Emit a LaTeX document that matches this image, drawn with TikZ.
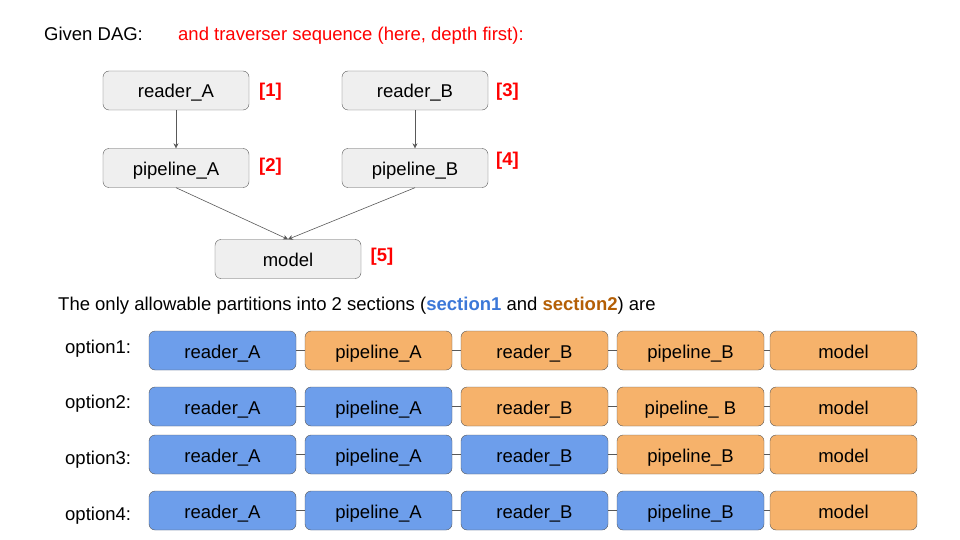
\documentclass[tikz,border=0pt]{standalone}
\usepackage{fontspec}
\setmainfont{Liberation Sans}
\usetikzlibrary{arrows.meta}
\definecolor{boxgray}{HTML}{EFEFEF}
\definecolor{edgegray}{HTML}{595959}
\definecolor{secone}{HTML}{6D9EEB}
\definecolor{sectwo}{HTML}{F6B26B}
\definecolor{secondtext}{HTML}{B45F06}
\definecolor{firsttext}{HTML}{3C78D8}
\tikzset{
	txt/.style={font=\fontsize{18.5}{22}\selectfont, inner sep=0pt},
	line/.style={txt, anchor=base west},
	dagbox/.style={txt, text height=15pt, text depth=0pt, draw=edgegray, fill=boxgray, rounded corners=6pt, minimum width=146pt, minimum height=39pt},
	partbox/.style={txt, text height=15pt, text depth=0pt, draw=edgegray, rounded corners=6pt, minimum width=147pt, minimum height=39pt},
	blue box/.style={partbox, fill=secone},
	orange box/.style={partbox, fill=sectwo},
	order/.style={txt, text=red, font=\fontsize{18.5}{22}\selectfont\bfseries},
	link/.style={draw=edgegray, line width=0.6pt}
}

\begin{document}
\begin{tikzpicture}[x=1pt,y=-1pt,>={Stealth[length=5pt,width=5pt]}]
		%\draw[help lines] (0,0) grid (960,540);
		\useasboundingbox (0,0) rectangle (960,540);
		
		\node[line] (given) at (44,41) {Given DAG:};
		\node[line, text=red] (traverse) at (178,41) {and traverser sequence (here, depth first):};
		
		\node[dagbox] (readA) at (176,90.5) {reader\_A};
		\node[dagbox] (pipeA) at (176,168) {pipeline\_A};
		\node[dagbox] (readB) at (415,90.5) {reader\_B};
		\node[dagbox] (pipeB) at (415,168) {pipeline\_B};
		\node[dagbox] (model) at (288,259) {model};
		
		\node[order] (n1) at (270.5,92) {[1]};
		\node[order] (n2) at (270.5,166.5) {[2]};
		\node[order] (n3) at (507.5,92) {[3]};
		\node[order] (n4) at (507.5,161) {[4]};
		\node[order] (n5) at (382,257) {[5]};
		
		\draw[link,->] (readA) -- (pipeA);
		\draw[link,->] (readB) -- (pipeB);
		\draw[link,->] (pipeA.south) -- (model.north);
		\draw[link,->] (pipeB.south) -- (model.north);
		
		\node[line] (partitions) at (58,310) {The only allowable partitions into 2 sections (\textcolor{firsttext}{\bfseries section1} and \textcolor{secondtext}{\bfseries section2}) are};
		
		%option1
		\node[line] (opt1) at (65,353.3) {option1:};
		\node[blue box] (o1a) at (222.5,350.5) {reader\_A};
		\node[orange box] (o1b) at (378.5,350.5) {pipeline\_A};
		\node[orange box] (o1c) at (534.5,350.5) {reader\_B};
		\node[orange box] (o1d) at (690.5,350.5) {pipeline\_B};
		\node[orange box] (o1e) at (843.5,350.5) {model};
		\draw[link] (o1a) -- (o1b) (o1b) -- (o1c) (o1c) -- (o1d) (o1d) -- (o1e);
		
		%option2
		\node[line] (opt2) at (65,408.3) {option2:};
		\node[blue box] (o2a) at (222.5,406.5) {reader\_A};
		\node[blue box] (o2b) at (378.5,406.5) {pipeline\_A};
		\node[orange box] (o2c) at (534.5,406.5) {reader\_B};
		\node[orange box] (o2d) at (690.5,406.5) {pipeline\_ B};
		\node[orange box] (o2e) at (843.5,406.5) {model};
		\draw[link] (o2a) -- (o2b) (o2b) -- (o2c) (o2c) -- (o2d) (o2d) -- (o2e);
		
		%option3
		\node[line] (opt3) at (65,464.3) {option3:};
		\node[blue box] (o3a) at (222.5,454.5) {reader\_A};
		\node[blue box] (o3b) at (378.5,454.5) {pipeline\_A};
		\node[blue box] (o3c) at (534.5,454.5) {reader\_B};
		\node[orange box] (o3d) at (690.5,454.5) {pipeline\_B};
		\node[orange box] (o3e) at (843.5,454.5) {model};
		\draw[link] (o3a) -- (o3b) (o3b) -- (o3c) (o3c) -- (o3d) (o3d) -- (o3e);
		
		%option4
		\node[line] (opt4) at (65,520.3) {option4:};
		\node[blue box] (o4a) at (222.5,510.5) {reader\_A};
		\node[blue box] (o4b) at (378.5,510.5) {pipeline\_A};
		\node[blue box] (o4c) at (534.5,510.5) {reader\_B};
		\node[blue box] (o4d) at (690.5,510.5) {pipeline\_B};
		\node[orange box] (o4e) at (843.5,510.5) {model};
		\draw[link] (o4a) -- (o4b) (o4b) -- (o4c) (o4c) -- (o4d) (o4d) -- (o4e);
\end{tikzpicture}
\end{document}
